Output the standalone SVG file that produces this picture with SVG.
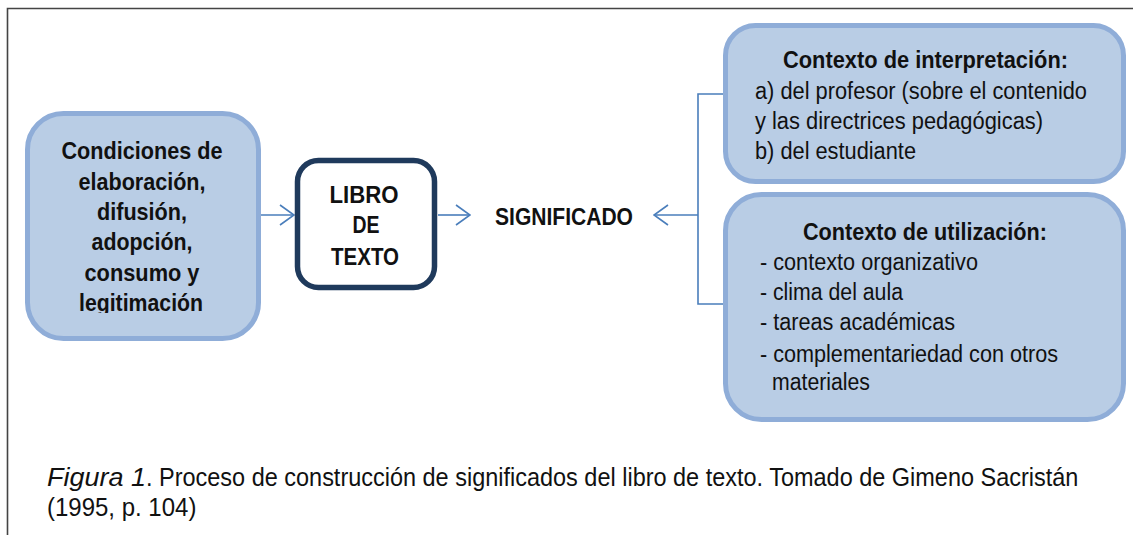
<svg xmlns="http://www.w3.org/2000/svg" width="1133" height="535" viewBox="0 0 1133 535">
<style>
.frame{fill:none;stroke:#444;stroke-width:1.6}
.soft{fill:#B9CDE5;stroke:#8FADD8;stroke-width:5}
.dark{fill:#fff;stroke:#1F3A5C;stroke-width:5.5}
.conn{fill:none;stroke:#4A7EBB;stroke-width:1.6}
.b{font-family:"Liberation Sans",Arial,sans-serif;font-weight:bold;font-size:24px;fill:#111}
.n{font-family:"Liberation Sans Narrow","Liberation Sans",Arial,sans-serif;font-size:23.5px;fill:#111}
.nb{font-family:"Liberation Sans Narrow","Liberation Sans",Arial,sans-serif;font-weight:bold;font-size:23.5px;fill:#111}
.cap{font-family:"Liberation Sans Narrow","Liberation Sans",Arial,sans-serif;font-size:26.5px;fill:#111}
</style>
<defs>
<marker id="ah" viewBox="0 0 16 22" refX="15" refY="11" markerWidth="16" markerHeight="22" markerUnits="userSpaceOnUse" orient="auto">
<path d="M1,1 L15,11 L1,21" fill="none" stroke="#4A7EBB" stroke-width="1.6"/>
</marker>
<clipPath id="clipL"><rect x="0" y="0" width="300" height="313"/></clipPath>
</defs>
<rect width="1133" height="535" fill="#fff"/>
<path class="frame" d="M7.5,535 V8.5 H1133"/>

<g id="connectors">
<line class="conn" x1="261" y1="215" x2="294" y2="215" marker-end="url(#ah)"/>
<line class="conn" x1="438" y1="215" x2="470" y2="215" marker-end="url(#ah)"/>
<line class="conn" x1="698" y1="215" x2="654" y2="215" marker-end="url(#ah)"/>
<path class="conn" d="M726,94 H698 V304 H725"/>
</g>

<g id="node-condiciones">
<rect class="soft" x="27.5" y="113.5" width="231" height="225" rx="36"/>
<g clip-path="url(#clipL)">
<text class="b" x="142" y="159" text-anchor="middle" textLength="161" lengthAdjust="spacingAndGlyphs">Condiciones de</text>
<text class="b" x="142" y="190" text-anchor="middle" textLength="127" lengthAdjust="spacingAndGlyphs">elaboración,</text>
<text class="b" x="142" y="220" text-anchor="middle" textLength="90" lengthAdjust="spacingAndGlyphs">difusión,</text>
<text class="b" x="142" y="250" text-anchor="middle" textLength="101" lengthAdjust="spacingAndGlyphs">adopción,</text>
<text class="b" x="142" y="281" text-anchor="middle" textLength="115" lengthAdjust="spacingAndGlyphs">consumo y</text>
<text class="b" x="141" y="311" text-anchor="middle" textLength="124" lengthAdjust="spacingAndGlyphs">legitimación</text>
</g>
</g>

<g id="node-libro">
<rect class="dark" x="297.5" y="160.5" width="137" height="127" rx="21"/>
<text class="b" x="364" y="203" text-anchor="middle" textLength="69" lengthAdjust="spacingAndGlyphs">LIBRO</text>
<text class="b" x="366" y="233" text-anchor="middle" textLength="27" lengthAdjust="spacingAndGlyphs">DE</text>
<text class="b" x="365" y="265" text-anchor="middle" textLength="68" lengthAdjust="spacingAndGlyphs">TEXTO</text>
</g>

<g id="node-significado">
<text class="b" x="495" y="225" textLength="138" lengthAdjust="spacingAndGlyphs">SIGNIFICADO</text>
</g>

<g id="node-interpretacion">
<rect class="soft" x="725.5" y="25.5" width="398" height="156" rx="30"/>
<text class="nb" x="783" y="68" textLength="285" lengthAdjust="spacingAndGlyphs">Contexto de interpretación:</text>
<text class="n" x="755" y="99" textLength="332" lengthAdjust="spacingAndGlyphs">a) del profesor (sobre el contenido</text>
<text class="n" x="755" y="129" textLength="288" lengthAdjust="spacingAndGlyphs">y las directrices pedagógicas)</text>
<text class="n" x="755" y="159" textLength="161" lengthAdjust="spacingAndGlyphs">b) del estudiante</text>
</g>

<g id="node-utilizacion">
<rect class="soft" x="725.5" y="194.5" width="398" height="225" rx="36"/>
<text class="nb" x="803" y="240" textLength="244" lengthAdjust="spacingAndGlyphs">Contexto de utilización:</text>
<text class="n" x="760" y="270" textLength="218" lengthAdjust="spacingAndGlyphs">- contexto organizativo</text>
<text class="n" x="760" y="300" textLength="143" lengthAdjust="spacingAndGlyphs">- clima del aula</text>
<text class="n" x="760" y="330" textLength="195" lengthAdjust="spacingAndGlyphs">- tareas académicas</text>
<text class="n" x="760" y="362" textLength="298" lengthAdjust="spacingAndGlyphs">- complementariedad con otros</text>
<text class="n" x="772" y="390" textLength="98" lengthAdjust="spacingAndGlyphs">materiales</text>
</g>

<g id="caption" transform="translate(47,0) scale(0.9,1)">
<text class="cap" x="0" y="486" font-style="italic" textLength="110" lengthAdjust="spacingAndGlyphs">Figura 1</text>
<text class="cap" x="110" y="486" textLength="1036" lengthAdjust="spacingAndGlyphs">. Proceso de construcción de significados del libro de texto. Tomado de Gimeno Sacristán</text>
<text class="cap" x="0" y="516" textLength="166" lengthAdjust="spacingAndGlyphs">(1995, p. 104)</text>
</g>
</svg>
